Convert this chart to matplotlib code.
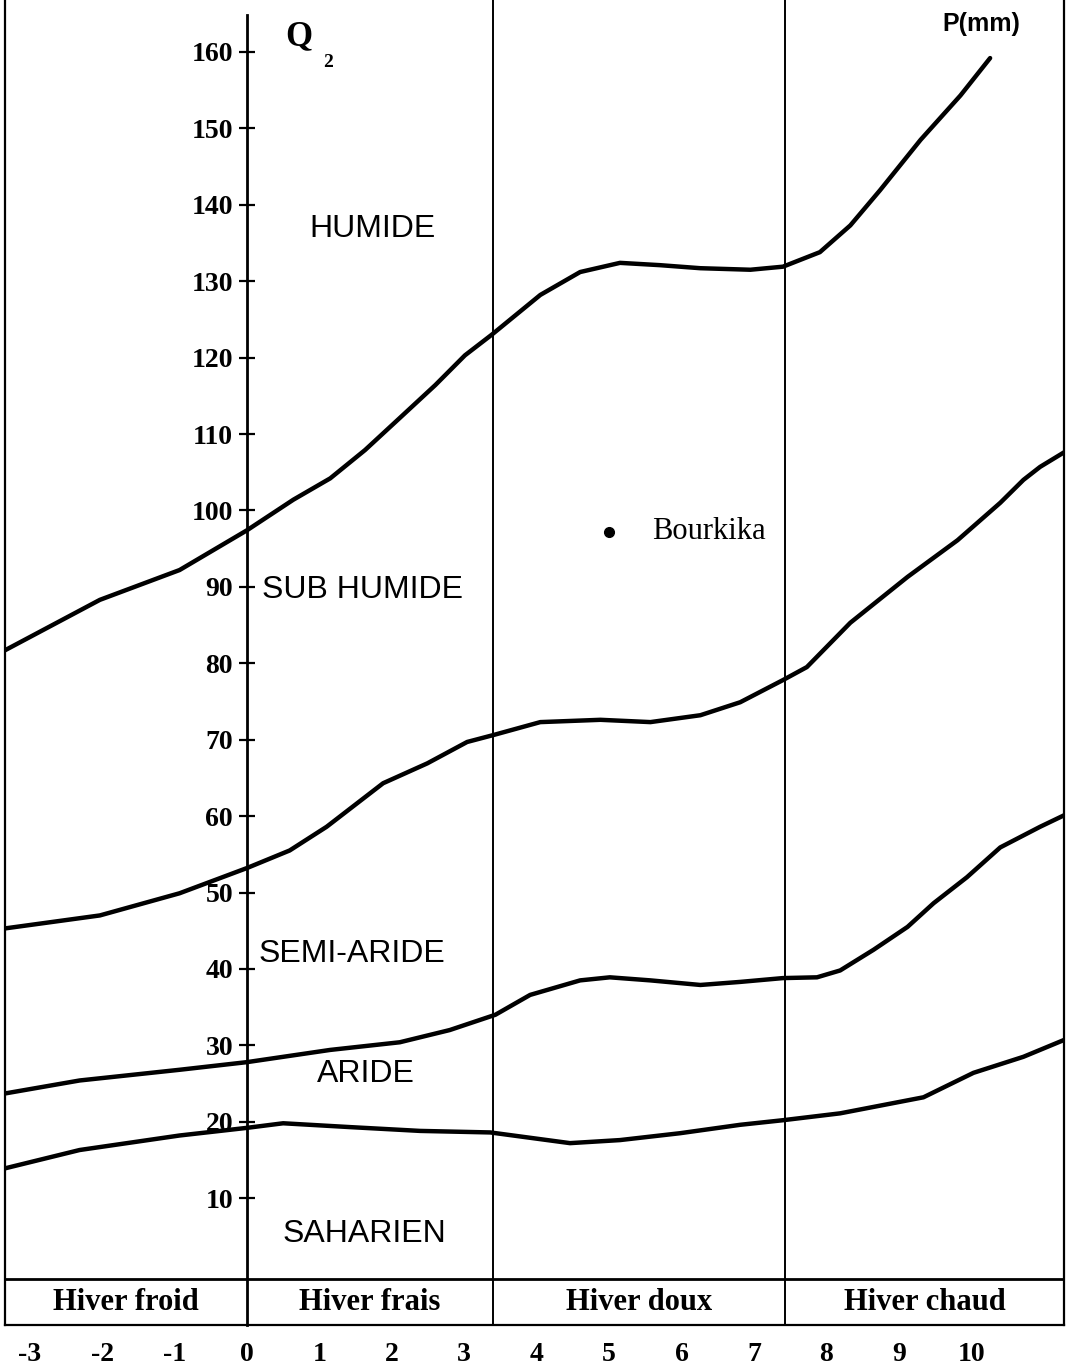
import matplotlib
matplotlib.use("Agg")
import matplotlib.pyplot as plt

# Emberger climagram: Q2 vs m (mean min temperature of the coldest month)
curve_humide_t = [-3.34, -2.03, -0.93, 0.0, 0.64, 1.15, 1.63, 2.11, 2.60, 3.01, 3.38, 4.05, 4.60,
                  5.15, 5.70, 6.26, 6.95, 7.40, 7.91, 8.33, 8.74, 9.30, 9.85, 10.26]
curve_humide_q = [81.7, 88.3, 92.2, 97.4, 101.4, 104.2, 107.9, 112.1, 116.4, 120.3, 123.0, 128.2, 131.2,
                  132.4, 132.1, 131.7, 131.5, 131.9, 133.8, 137.3, 141.9, 148.5, 154.3, 159.2]

curve_subhum_t = [-3.34, -2.03, -0.93, 0.0, 0.59, 1.10, 1.88, 2.49, 3.04, 3.40, 4.05, 4.88, 5.57,
                  6.26, 6.81, 7.40, 7.73, 8.33, 9.12, 9.81, 10.40, 10.72, 10.95, 11.28]
curve_subhum_q = [45.3, 47.0, 49.9, 53.2, 55.5, 58.6, 64.3, 66.9, 69.7, 70.6, 72.3, 72.6, 72.3,
                  73.2, 74.9, 77.8, 79.5, 85.3, 91.3, 96.1, 101.0, 104.0, 105.7, 107.6]

curve_semiar_t = [-3.34, -2.31, -0.93, 0.0, 1.15, 2.11, 2.80, 3.43, 3.91, 4.60, 5.01, 5.57, 6.26,
                  6.81, 7.40, 7.87, 8.19, 8.65, 9.12, 9.48, 9.94, 10.40, 10.95, 11.28]
curve_semiar_q = [23.7, 25.4, 26.8, 27.8, 29.4, 30.4, 32.0, 34.0, 36.6, 38.5, 38.9, 38.5, 37.9,
                  38.3, 38.8, 38.9, 39.8, 42.5, 45.5, 48.6, 52.0, 55.9, 58.6, 60.1]

curve_aride_t = [-3.34, -2.31, -0.93, 0.0, 0.50, 1.42, 2.39, 3.36, 3.91, 4.46, 5.15, 5.98, 6.81,
                 7.40, 8.19, 9.34, 10.03, 10.72, 11.28]
curve_aride_q = [13.9, 16.3, 18.2, 19.2, 19.8, 19.3, 18.8, 18.6, 17.9, 17.2, 17.6, 18.5, 19.6,
                 20.2, 21.1, 23.2, 26.4, 28.5, 30.7]

zone_names = ["HUMIDE", "SUB HUMIDE", "SEMI-ARIDE", "ARIDE", "SAHARIEN"]
zone_t = [1.73, 1.60, 1.45, 1.64, 1.62]
zone_q = [136.8, 89.6, 42.0, 26.2, 5.3]

winter_names = ["Hiver froid", "Hiver frais", "Hiver doux", "Hiver chaud"]
winter_bounds = [-3.34, 0.0, 3.4, 7.43, 11.28]

station_name = "Bourkika"
station_t = 5.0
station_q = 97.2

y_ticks = list(range(10, 170, 10))
x_ticks = list(range(-3, 11))

Q_BOTTOM, Q_TOP = -6.6, 166.8
BAND_TOP = -0.6

plt.rcParams['font.family'] = ['Liberation Serif', 'DejaVu Serif']
plt.rcParams['font.weight'] = 'bold'

fig = plt.figure(figsize=(10.68, 13.72), dpi=100)
ax = fig.add_axes([5 / 1068, 47 / 1372, 1059 / 1068, 1325 / 1372])
ax.set_xlim(winter_bounds[0], winter_bounds[-1])
ax.set_ylim(Q_BOTTOM, Q_TOP)

# frame
ax.spines['top'].set_visible(False)
ax.spines['right'].set_linewidth(1.6)
ax.spines['bottom'].set_linewidth(1.6)
ax.spines['left'].set_position(('data', 0))
ax.spines['left'].set_bounds(Q_BOTTOM, Q_TOP - 2)
ax.spines['left'].set_linewidth(2.0)
ax.plot([0, 0], [0, 1], transform=ax.transAxes, color='black', lw=1.6, clip_on=False)

# y axis (Q2)
ax.set_yticks(y_ticks)
ax.set_yticklabels([str(v) for v in y_ticks])
ax.tick_params(axis='y', direction='inout', length=12, width=1.6, pad=4, labelsize=20)

# x axis (m)
ax.set_xticks(x_ticks)
ax.set_xticklabels([str(v) for v in x_ticks])
ax.tick_params(axis='x', length=0, pad=12, labelsize=20)

# winter band
ax.axhline(BAND_TOP, color='black', lw=2.0)
for b in winter_bounds[2:-1]:
    ax.axvline(b, color='black', lw=1.4)
for i, name in enumerate(winter_names):
    cx = (winter_bounds[i] + winter_bounds[i + 1]) / 2
    ax.text(cx, (BAND_TOP + Q_BOTTOM) / 2, name, ha='center', va='center', fontsize=22)

# boundary curves
for t, q in [(curve_humide_t, curve_humide_q), (curve_subhum_t, curve_subhum_q),
             (curve_semiar_t, curve_semiar_q), (curve_aride_t, curve_aride_q)]:
    ax.plot(t, q, color='black', lw=3.2, solid_capstyle='round', solid_joinstyle='round')

# zone labels
for name, t, q in zip(zone_names, zone_t, zone_q):
    ax.text(t, q, name, ha='center', va='center', fontsize=23, fontweight='normal',
            family='Liberation Sans')

# station
ax.plot(station_t, station_q, 'o', color='black', markersize=7)
ax.text(station_t + 0.59, station_q, station_name, ha='left', va='center', fontsize=22,
        fontweight='normal')

# axis titles
ax.text(0.72, 162.0, "Q", ha='center', va='center', fontsize=25)
ax.text(1.12, 158.6, "2", ha='center', va='center', fontsize=14)
ax.text(10.14, 163.7, "P(mm)", ha='center', va='center', fontsize=18, family='Liberation Sans')

fig.savefig("out.png", dpi=100)
